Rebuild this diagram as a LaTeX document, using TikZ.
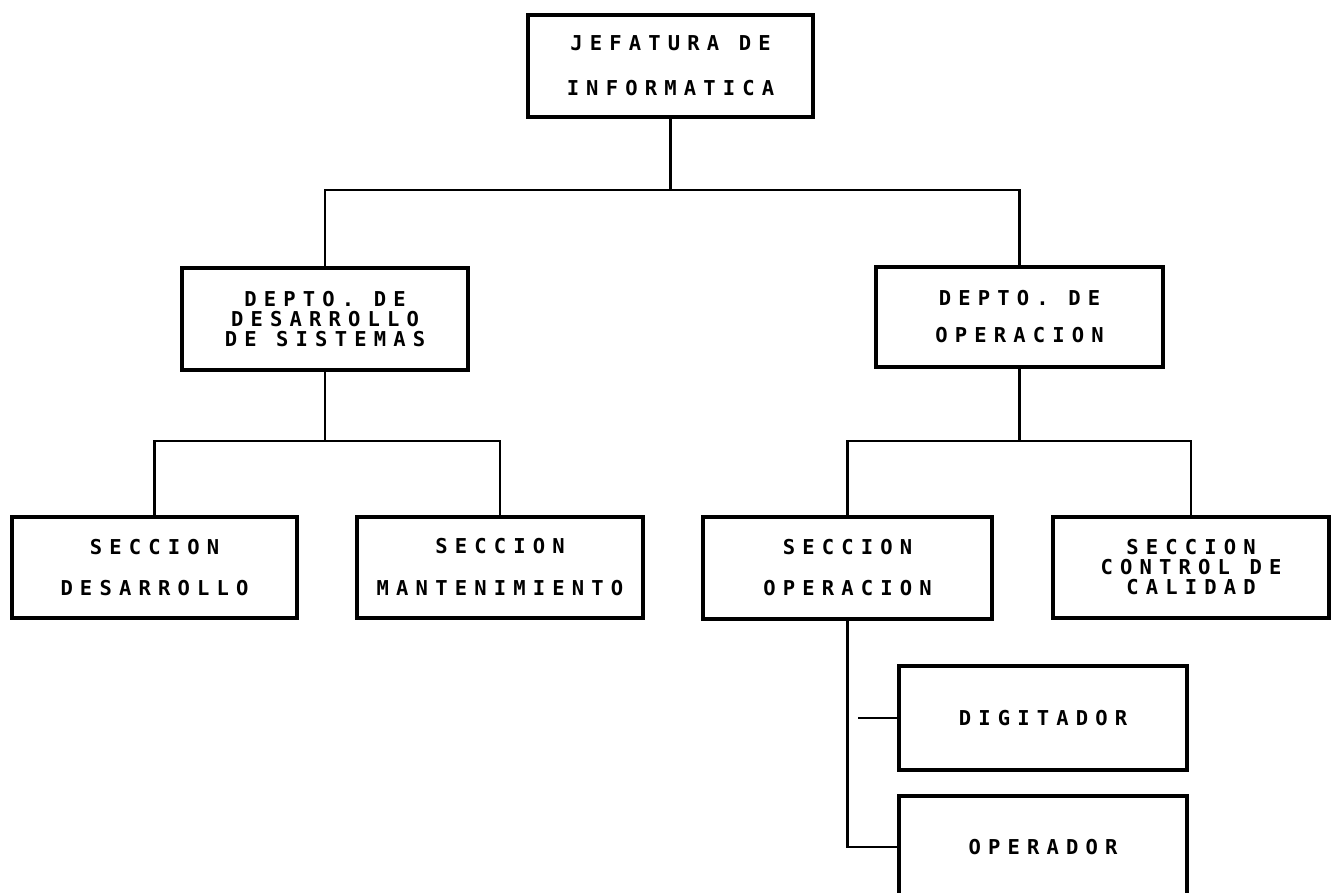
\documentclass[tikz,border=0pt]{standalone}
\usepackage{fontspec}
\newfontfamily\orgfont[LetterSpace=35]{DejaVu Sans Mono Bold}
\begin{document}
\begin{tikzpicture}[x=1pt,y=-1pt,
  orgbox/.style={draw, line width=3.5pt, inner sep=0pt, align=center,
    font=\orgfont\fontsize{20.5}{#1}\selectfont},
  orgbox/.default=45,
  link/.style={line width=2.5pt}]
\clip (0,0) rectangle (1331,892);

% boxes
\node[orgbox=45, minimum width=285, minimum height=102] (jef) at (670.5,66) {JEFATURA DE\\INFORMATICA};
\node[orgbox=20, minimum width=286, minimum height=102] (ddes) at (325,319) {DEPTO. DE\\DESARROLLO\\DE SISTEMAS};
\node[orgbox=37, minimum width=287, minimum height=100] (dop) at (1019.5,317) {DEPTO. DE\\OPERACION};
\node[orgbox=41, minimum width=285, minimum height=101] (sdes) at (154.5,567.5) {SECCION\\DESARROLLO};
\node[orgbox=42, minimum width=286, minimum height=101] (smant) at (500,567.5) {SECCION\\MANTENIMIENTO};
\node[orgbox=41, minimum width=289, minimum height=102] (sop) at (847.5,568) {SECCION\\OPERACION};
\node[orgbox=20, minimum width=276, minimum height=101] (scal) at (1191,567.5) {SECCION\\CONTROL DE\\CALIDAD};
\node[orgbox, minimum width=288, minimum height=104] (dig) at (1043,718) {DIGITADOR};
\node[orgbox, minimum width=288, minimum height=102] (op) at (1043,847) {OPERADOR};

% bus points
\coordinate (b1) at (670.5,190);
\coordinate (b2) at (325,441);
\coordinate (b3) at (1019.5,441);
\coordinate (dstub) at (858,718);

% connectors
\draw[link] (jef.south) -- (b1);
\draw[link] (ddes.north) |- (b1) -| (dop.north);
\draw[link] (ddes.south) -- (b2);
\draw[link] (sdes.north) |- (b2) -| (smant.north);
\draw[link] (dop.south) -- (b3);
\draw[link] (sop.north) |- (b3) -| (scal.north);
\draw[link] (sop.south) |- (op.west);
\draw[link] (dstub) -- (dig.west);
\end{tikzpicture}
\end{document}
